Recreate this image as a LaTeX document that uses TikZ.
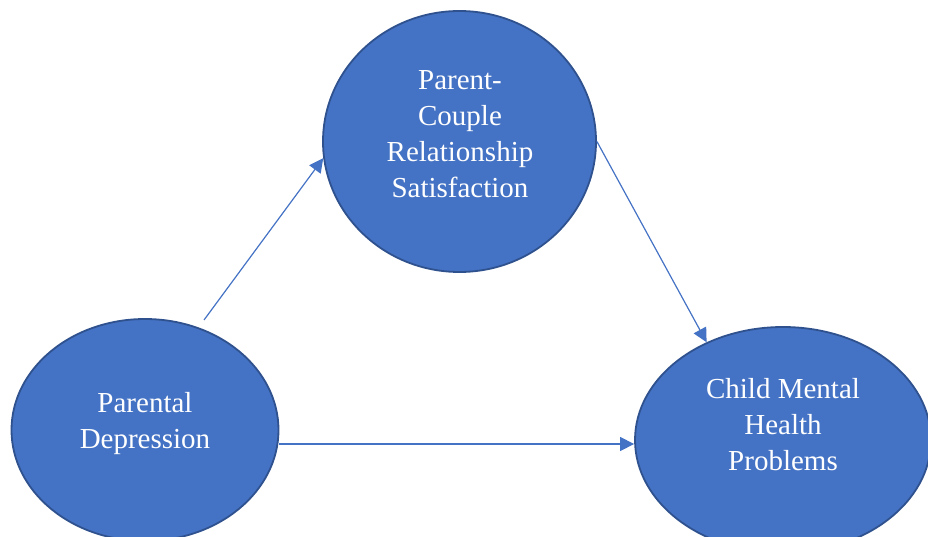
\documentclass[tikz,border=0pt]{standalone}
\usepackage{fontspec}
\setmainfont{Liberation Serif}
\usetikzlibrary{shapes.geometric,arrows.meta}
\definecolor{nodeblue}{HTML}{4472C4}
\definecolor{nodeedge}{HTML}{2F528F}
\tikzset{
  construct/.style={ellipse, draw=nodeedge, line width=1.8pt, fill=nodeblue, inner sep=0pt},
  caption/.style={text=white, align=center, font=\fontsize{29}{36}\selectfont},
  conn/.style={draw=nodeblue, line width=1.2pt, -{Triangle[length=14pt,width=14pt]}}
}
\begin{document}
\begin{tikzpicture}[x=1pt, y=-1pt]
  \useasboundingbox (0,0) rectangle (928,537);
  \clip (0,0) rectangle (928,537);

  % constructs
  \node[construct, minimum width=273pt, minimum height=261pt] (prcs) at (459.5,141.5) {};
  \node[construct, minimum width=267pt, minimum height=222pt] (pd) at (145,430) {};
  \node[construct, minimum width=296pt, minimum height=226pt] (cmh) at (783,440) {};

  \node[caption] (prcs-t) at (460,134) {Parent-\\Couple\\Relationship\\Satisfaction};
  \node[caption] (pd-t) at (145,424) {Parental\\Depression};
  \node[caption] (cmh-t) at (783,425) {Child Mental\\Health\\Problems};

  % paths
  \coordinate (pd-out) at (204,320);
  \draw[conn] (pd-out) -- (prcs.187);
  \draw[conn] (prcs.east) -- (cmh.128);
  \draw[conn] ([yshift=-14pt]pd.east) -- ([yshift=-4pt]cmh.west);
\end{tikzpicture}
\end{document}
